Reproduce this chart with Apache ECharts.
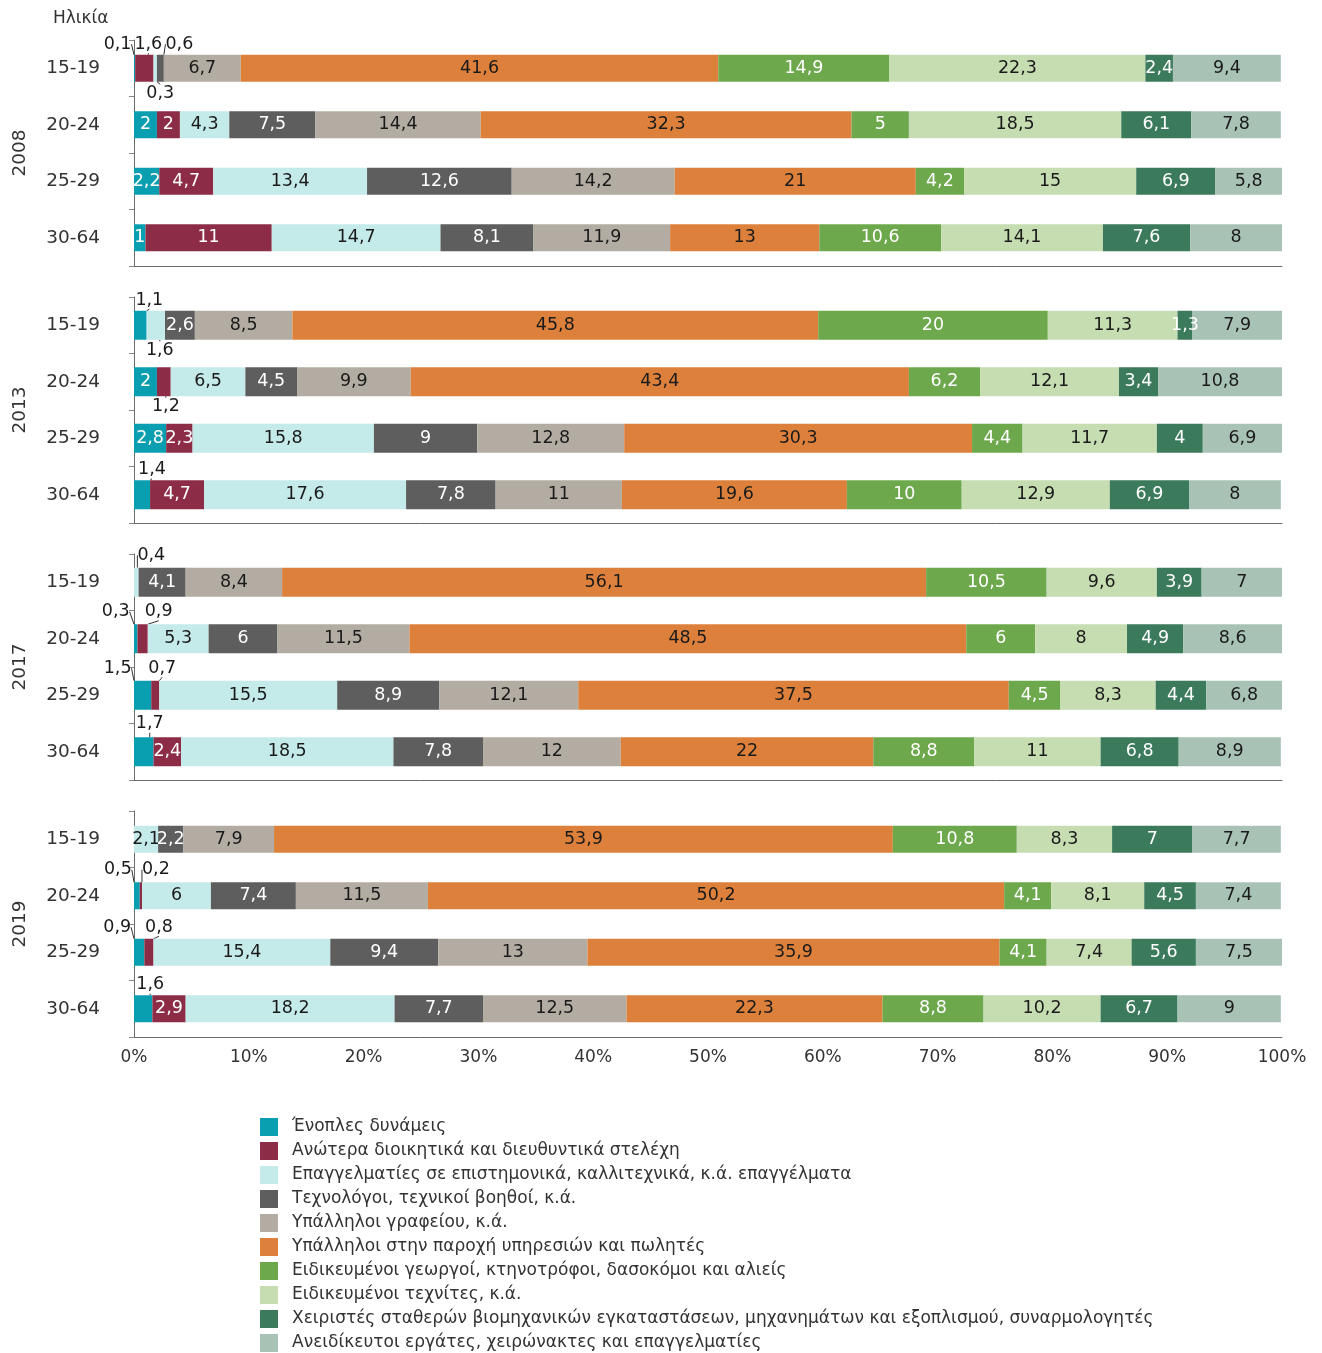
<!DOCTYPE html>
<html>
<head>
<meta charset="utf-8">
<script src="https://cdn.jsdelivr.net/npm/echarts@6/dist/echarts.min.js"></script>
<style>
  html, body { margin: 0; padding: 0; background: #ffffff; }
  #chart { width: 1322px; height: 1353px; }
</style>
</head>
<body>
<div id="chart"></div>
<script>
const years = ['2008', '2013', '2017', '2019'];
const ageGroups = ['15-19', '20-24', '25-29', '30-64'];
const occupations = [
  'Ένοπλες δυνάμεις',
  'Ανώτερα διοικητικά και διευθυντικά στελέχη',
  'Επαγγελματίες σε επιστημονικά, καλλιτεχνικά, κ.ά. επαγγέλματα',
  'Τεχνολόγοι, τεχνικοί βοηθοί, κ.ά.',
  'Υπάλληλοι γραφείου, κ.ά.',
  'Υπάλληλοι στην παροχή υπηρεσιών και πωλητές',
  'Ειδικευμένοι γεωργοί, κτηνοτρόφοι, δασοκόμοι και αλιείς',
  'Ειδικευμένοι τεχνίτες, κ.ά.',
  'Χειριστές σταθερών βιομηχανικών εγκαταστάσεων, μηχανημάτων και εξοπλισμού, συναρμολογητές',
  'Ανειδίκευτοι εργάτες, χειρώνακτες και επαγγελματίες'
];
const xTicks = ['0%', '10%', '20%', '30%', '40%', '50%', '60%', '70%', '80%', '90%', '100%'];

// shares (%) per age group, in occupation order
const shares2008 = [
  [0.1, 1.6, 0.3, 0.6, 6.7, 41.6, 14.9, 22.3, 2.4, 9.4],
  [2, 2, 4.3, 7.5, 14.4, 32.3, 5, 18.5, 6.1, 7.8],
  [2.2, 4.7, 13.4, 12.6, 14.2, 21, 4.2, 15, 6.9, 5.8],
  [1, 11, 14.7, 8.1, 11.9, 13, 10.6, 14.1, 7.6, 8]
];
const shares2013 = [
  [1.1, 0, 1.6, 2.6, 8.5, 45.8, 20, 11.3, 1.3, 7.9],
  [2, 1.2, 6.5, 4.5, 9.9, 43.4, 6.2, 12.1, 3.4, 10.8],
  [2.8, 2.3, 15.8, 9, 12.8, 30.3, 4.4, 11.7, 4, 6.9],
  [1.4, 4.7, 17.6, 7.8, 11, 19.6, 10, 12.9, 6.9, 8]
];
const shares2017 = [
  [0, 0, 0.4, 4.1, 8.4, 56.1, 10.5, 9.6, 3.9, 7],
  [0.3, 0.9, 5.3, 6, 11.5, 48.5, 6, 8, 4.9, 8.6],
  [1.5, 0.7, 15.5, 8.9, 12.1, 37.5, 4.5, 8.3, 4.4, 6.8],
  [1.7, 2.4, 18.5, 7.8, 12, 22, 8.8, 11, 6.8, 8.9]
];
const shares2019 = [
  [0, 0, 2.1, 2.2, 7.9, 53.9, 10.8, 8.3, 7, 7.7],
  [0.5, 0.2, 6, 7.4, 11.5, 50.2, 4.1, 8.1, 4.5, 7.4],
  [0.9, 0.8, 15.4, 9.4, 13, 35.9, 4.1, 7.4, 5.6, 7.5],
  [1.6, 2.9, 18.2, 7.7, 12.5, 22.3, 8.8, 10.2, 6.7, 9]
];
const sharesByYear = [shares2008, shares2013, shares2017, shares2019];

// styling
const colors = ['#0a9fb0', '#8d2c46', '#c4eaea', '#5e5e5e', '#b3aca2',
                '#dc803b', '#6da84c', '#c6ddb2', '#3b7a5b', '#a8c3b6'];
const labelColors = ['#ffffff', '#ffffff', '#1a1a1a', '#ffffff', '#1a1a1a',
                     '#1a1a1a', '#ffffff', '#1a1a1a', '#ffffff', '#1a1a1a'];
// callout labels for thin segments: [yearIdx, ageIdx, occIdx, dx, dy]
const callouts = [
  [0, 0, 0, -17, -24], [0, 0, 1, 4, -24], [0, 0, 3, 19, -24], [0, 0, 2, 5, 25],
  [1, 0, 0, 9, -25], [1, 0, 2, 4, 25], [1, 1, 1, 2, 25], [1, 3, 0, 10, -25],
  [2, 0, 2, 15, -27], [2, 1, 0, -20, -27], [2, 1, 1, 16, -27],
  [2, 2, 0, -25, -27], [2, 2, 1, 7, -27], [2, 3, 0, 6, -28],
  [3, 1, 0, -19, -26], [3, 1, 1, 15, -26], [3, 2, 0, -22, -25], [3, 2, 1, 10, -25],
  [3, 3, 0, 7, -24]
];

const FONT = 'DejaVu Sans';
const gridTops = [40, 297, 554, 811];
const gridH = 226;
const barWidths = [27, 29, 29, 27];

function fmt(v) { return String(v).replace('.', ','); }
function findCallout(g, a, s) {
  for (const c of callouts) if (c[0] === g && c[1] === a && c[2] === s) return c;
  return null;
}

const grids = [], xAxes = [], yAxes = [], series = [];
years.forEach((yr, g) => {
  grids.push({ left: 134, right: 40, top: gridTops[g], height: gridH });
  xAxes.push({
    type: 'value', gridIndex: g, min: 0, max: 100, interval: 10,
    axisLine: { show: true, lineStyle: { color: '#6b6b6b', width: 1 } },
    axisTick: { show: false },
    splitLine: { show: false },
    axisLabel: {
      show: g === 3, color: '#333', fontFamily: FONT, fontSize: 17, margin: 12,
      formatter: (v) => xTicks[Math.round(v / 10)]
    }
  });
  yAxes.push({
    type: 'category', gridIndex: g, data: ageGroups, inverse: true,
    name: yr, nameLocation: 'middle', nameRotate: 90, nameGap: 104,
    nameTextStyle: { color: '#333', fontFamily: FONT, fontSize: 18.5 },
    axisLine: { show: true, lineStyle: { color: '#6b6b6b', width: 1 } },
    axisTick: { show: true, length: 5, lineStyle: { color: '#888' } },
    axisLabel: { color: '#333', fontFamily: FONT, fontSize: 18.5, margin: 34 }
  });
  occupations.forEach((occ, s) => {
    const data = ageGroups.map((age, a) => {
      const v = sharesByYear[g][a][s];
      const c = findCallout(g, a, s);
      const item = { value: v };
      if (v === 0) item.label = { show: false };
      if (c) {
        item.label = { show: true, color: '#1a1a1a' };
        item.labelLine = { show: true, lineStyle: { color: '#333', width: 1 } };
      }
      return item;
    });
    series.push({
      type: 'bar', name: occ, stack: 'st' + g,
      xAxisIndex: g, yAxisIndex: g, barWidth: barWidths[g],
      itemStyle: { color: colors[s] },
      label: {
        show: true, position: 'inside', color: labelColors[s],
        fontFamily: FONT, fontSize: 17.5,
        formatter: (p) => fmt(p.value)
      },
      labelLayout: function (params) {
        const c = findCallout(g, params.dataIndex, s);
        return c ? { dx: c[3], dy: c[4] } : {};
      },
      emphasis: { disabled: true },
      animation: false,
      data: data
    });
  });
});

const chart = echarts.init(document.getElementById('chart'), null, { renderer: 'canvas' });
chart.setOption({
  backgroundColor: '#ffffff',
  animation: false,
  title: {
    text: 'Ηλικία', left: 48, top: 5,
    textStyle: { color: '#333', fontFamily: FONT, fontSize: 17, fontWeight: 'normal' }
  },
  legend: {
    orient: 'vertical', left: 260, top: 1118, padding: 0,
    itemWidth: 18, itemHeight: 18, itemGap: 6,
    icon: 'rect', selectedMode: false,
    data: occupations,
    textStyle: { color: '#333', fontFamily: FONT, fontSize: 17, padding: [0, 0, 0, 9] }
  },
  grid: grids,
  xAxis: xAxes,
  yAxis: yAxes,
  series: series
});
</script>
</body>
</html>
